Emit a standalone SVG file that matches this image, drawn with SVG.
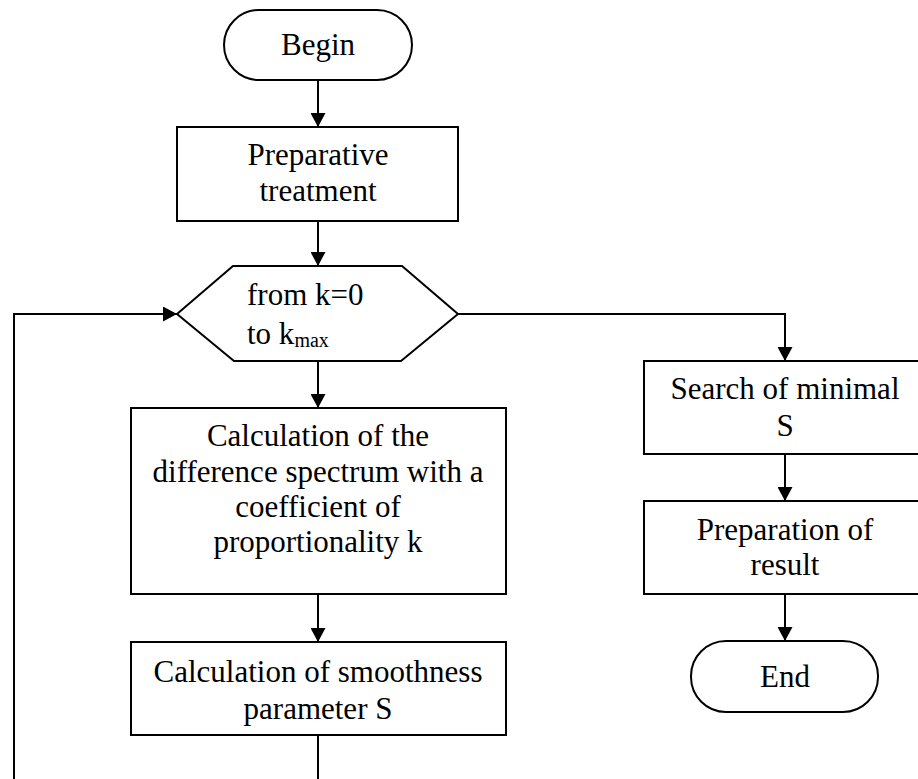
<svg xmlns="http://www.w3.org/2000/svg" width="918" height="779" viewBox="0 0 918 779" font-family="'Liberation Serif', 'Times New Roman', Tinos, 'DejaVu Serif', serif">
<style>
.s{fill:#fff;stroke:#000;stroke-width:2}
.c{fill:none;stroke:#000;stroke-width:2}
text{font-family:'Liberation Serif', 'Times New Roman', Tinos, 'DejaVu Serif', serif;font-size:31px;fill:#000}
.m{text-anchor:middle}
.sub{font-size:20px}
</style>
<defs>
<marker id="arr" markerUnits="userSpaceOnUse" markerWidth="15" markerHeight="15" refX="14" refY="7.5" orient="auto">
<path d="M0,0 L14,7.5 L0,15 z" fill="#000"/>
</marker>
</defs>
<rect width="918" height="779" fill="#fff"/>
<g id="connectors">
<path class="c" d="M318,80 V127" marker-end="url(#arr)"/>
<path class="c" d="M318,221 V266" marker-end="url(#arr)"/>
<path class="c" d="M318,361 V408" marker-end="url(#arr)"/>
<path class="c" d="M318,594 V642" marker-end="url(#arr)"/>
<path class="c" d="M318,735 V779"/>
<path class="c" d="M14,779 V314 H177" marker-end="url(#arr)"/>
<path class="c" d="M458,314 H785 V361" marker-end="url(#arr)"/>
<path class="c" d="M785,454 V501" marker-end="url(#arr)"/>
<path class="c" d="M785,594 V641" marker-end="url(#arr)"/>
</g>
<g id="begin">
<rect class="s" x="224" y="10" width="188" height="70" rx="35" ry="35"/>
<text class="m" x="318" y="55" font-family="Liberation Serif">Begin</text>
</g>
<g id="preparative">
<rect class="s" x="177" y="127" width="281" height="94"/>
<text class="m" x="318" y="165">Preparative</text>
<text class="m" x="318" y="201">treatment</text>
</g>
<g id="loop">
<polygon class="s" points="177,314 233,266 402,266 458,314 401,361 234,361"/>
<text x="247" y="305">from k=0</text>
<text x="247" y="344">to k<tspan class="sub" dy="3">max</tspan></text>
</g>
<g id="calc-diff">
<rect class="s" x="131" y="408" width="375" height="186"/>
<text class="m" x="318" y="446">Calculation of the</text>
<text class="m" x="318" y="482">difference spectrum with a</text>
<text class="m" x="318" y="517">coefficient of</text>
<text class="m" x="318" y="552">proportionality k</text>
</g>
<g id="calc-smooth">
<rect class="s" x="131" y="642" width="375" height="93"/>
<text class="m" x="318" y="682">Calculation of smoothness</text>
<text class="m" x="318" y="719">parameter S</text>
</g>
<g id="search">
<rect class="s" x="644" y="361" width="284" height="93"/>
<text class="m" x="785" y="399">Search of minimal</text>
<text class="m" x="785" y="436">S</text>
</g>
<g id="prep-result">
<rect class="s" x="644" y="501" width="284" height="93"/>
<text class="m" x="785" y="540">Preparation of</text>
<text class="m" x="785" y="575">result</text>
</g>
<g id="end">
<rect class="s" x="691" y="641" width="187" height="71" rx="35" ry="35"/>
<text class="m" x="785" y="687">End</text>
</g>
</svg>
